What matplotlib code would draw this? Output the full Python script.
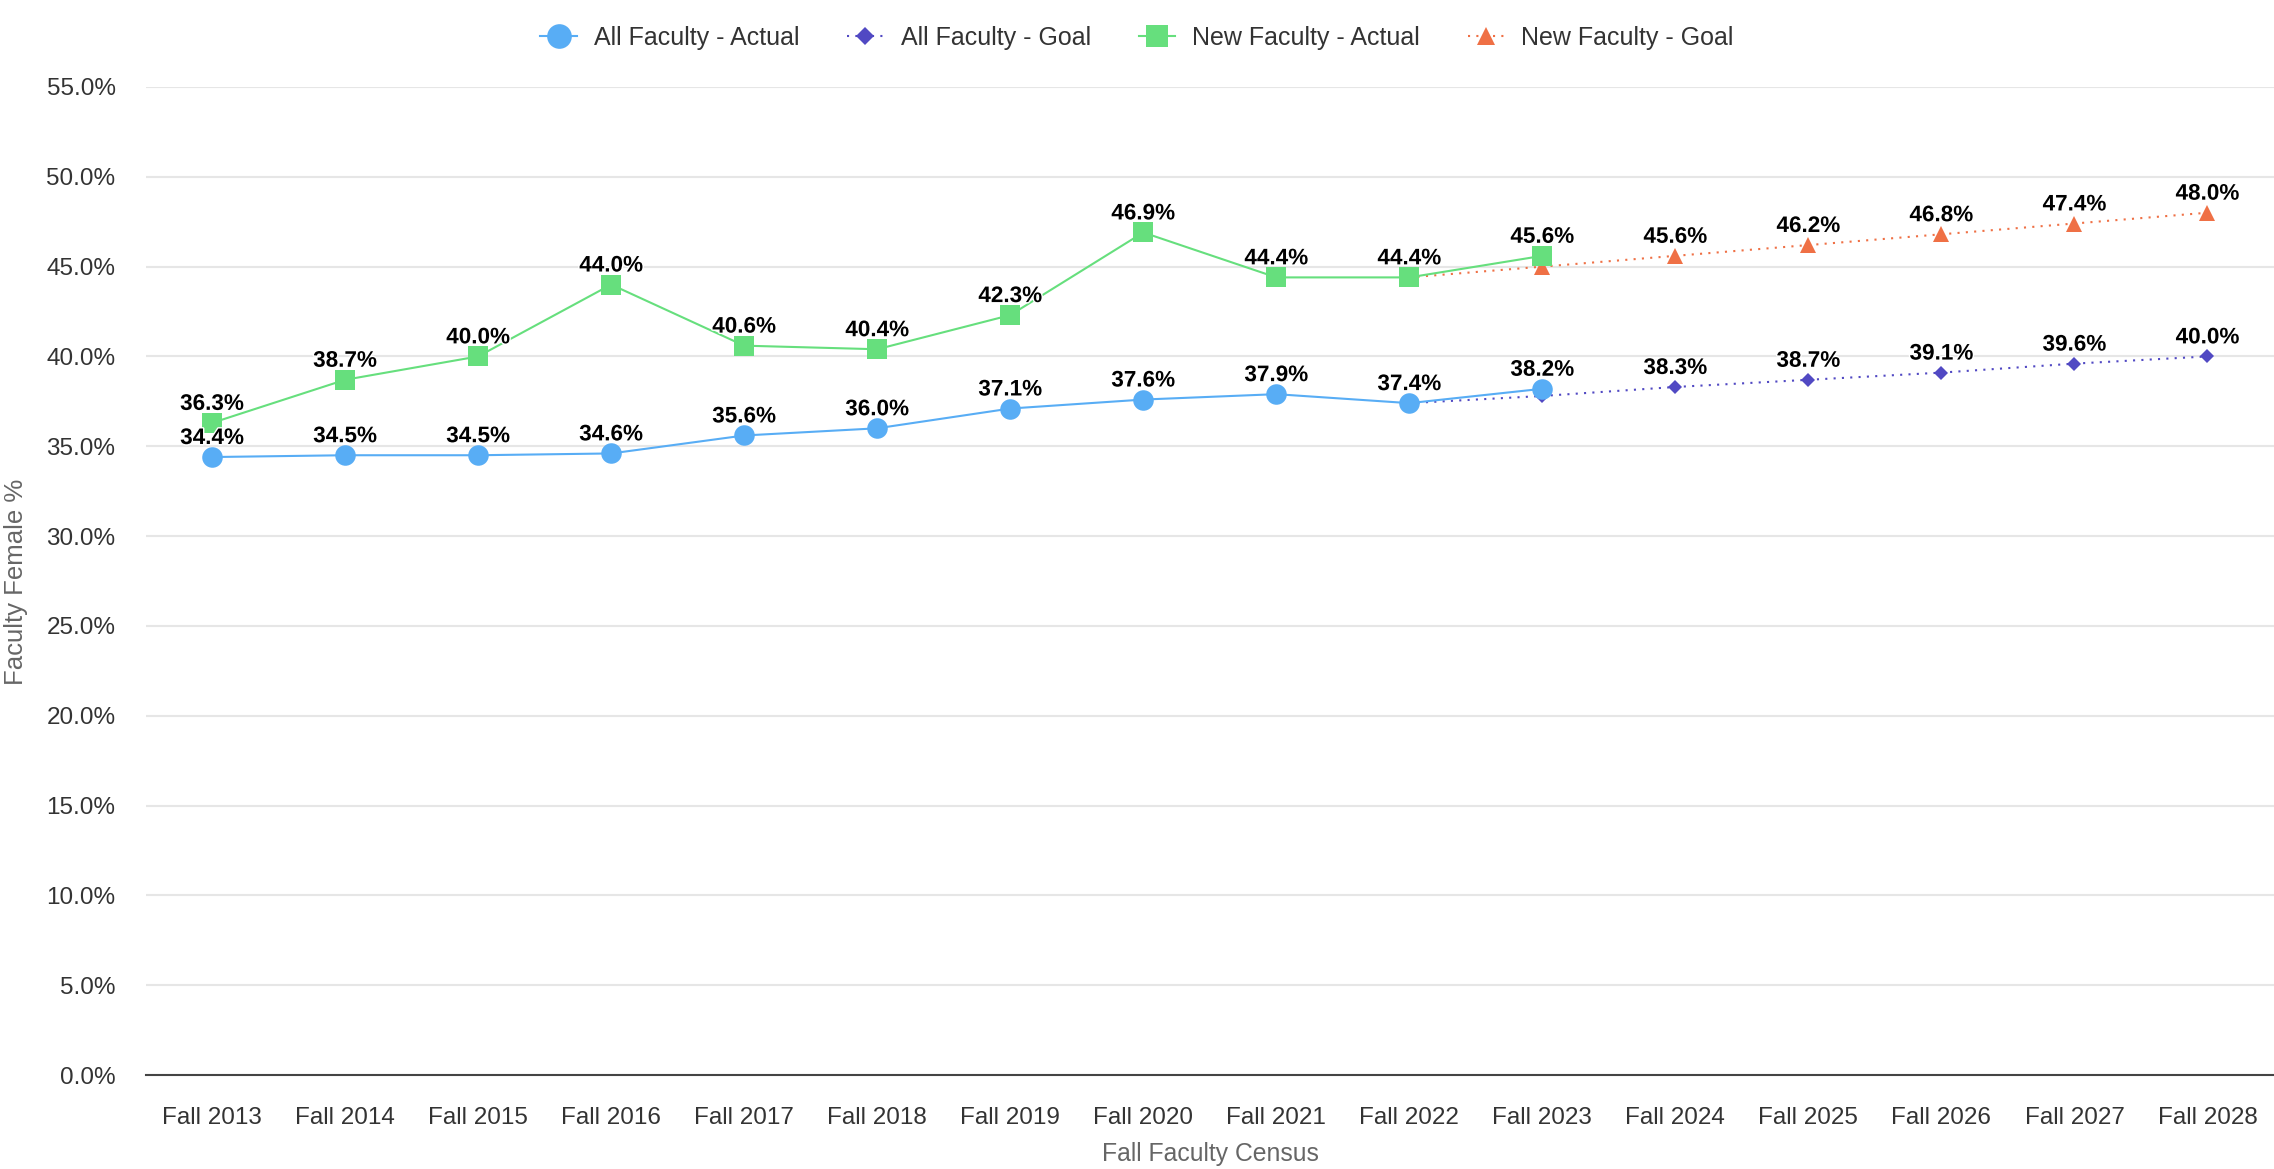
#!/usr/bin/env python3
"""
Faculty Female % by Fall Faculty Census, actuals vs. goals.

Line chart with four series: All Faculty (actual / goal) and
New Faculty (actual / goal), goals projected out to Fall 2028.
"""

import matplotlib.pyplot as plt
import matplotlib.patheffects as pe
from matplotlib.ticker import FuncFormatter

# Categories
years = ['Fall 2013', 'Fall 2014', 'Fall 2015', 'Fall 2016', 'Fall 2017',
         'Fall 2018', 'Fall 2019', 'Fall 2020', 'Fall 2021', 'Fall 2022',
         'Fall 2023', 'Fall 2024', 'Fall 2025', 'Fall 2026', 'Fall 2027',
         'Fall 2028']

# Actuals (Fall 2013 - Fall 2023)
actual_years = years[:11]
all_actual = [34.4, 34.5, 34.5, 34.6, 35.6, 36.0, 37.1, 37.6, 37.9, 37.4, 38.2]
new_actual = [36.3, 38.7, 40.0, 44.0, 40.6, 40.4, 42.3, 46.9, 44.4, 44.4, 45.6]

# Goals (start from the Fall 2022 actual, run to Fall 2028)
goal_years = years[9:]
all_goal = [37.4, 37.8, 38.3, 38.7, 39.1, 39.6, 40.0]
new_goal = [44.4, 45.0, 45.6, 46.2, 46.8, 47.4, 48.0]
# goal labels hidden where they collide with the actual labels
goal_label_from = 'Fall 2024'

# Colors
BLUE = '#58adf5'
PURPLE = '#5149c3'
GREEN = '#66df7d'
ORANGE = '#ef7045'


def add_labels(ax, xs, ys):
    for x, y in zip(xs, ys):
        ax.annotate(f'{y:.1f}%', (x, y), xytext=(0, 9.4),
                    textcoords='offset points', ha='center', va='baseline',
                    fontsize=16.2, fontweight='bold', color='black', zorder=10,
                    path_effects=[pe.withStroke(linewidth=2, foreground='white')])


def main():
    plt.rcParams['font.family'] = ['Liberation Sans', 'DejaVu Sans']

    fig = plt.figure(figsize=(22.74, 11.69), dpi=100)
    ax = fig.add_axes([0.064, 0.0804, 0.936, 0.8452])

    idx = {y: i for i, y in enumerate(years)}
    xa = [idx[y] for y in actual_years]
    xg = [idx[y] for y in goal_years]

    # Goal lines (below actuals)
    h_all_goal, = ax.plot(xg, all_goal, color=PURPLE, lw=1.5,
                          linestyle=(0, (1, 3)), marker='D', ms=7.5,
                          mew=0, label='All Faculty - Goal', zorder=3)
    h_new_goal, = ax.plot(xg, new_goal, color=ORANGE, lw=1.5,
                          linestyle=(0, (1, 3)), marker='^', ms=11,
                          mew=0, label='New Faculty - Goal', zorder=3)

    # Actual lines
    h_all, = ax.plot(xa, all_actual, color=BLUE, lw=1.5, marker='o', ms=14.8,
                     mew=0, label='All Faculty - Actual', zorder=5)
    h_new, = ax.plot(xa, new_actual, color=GREEN, lw=1.5, marker='s', ms=13.8,
                     mew=0, label='New Faculty - Actual', zorder=5)

    # Data labels
    add_labels(ax, xa, all_actual)
    add_labels(ax, xa, new_actual)
    start = goal_years.index(goal_label_from)
    add_labels(ax, xg[start:], all_goal[start:])
    add_labels(ax, xg[start:], new_goal[start:])

    # Axes
    ax.set_xlim(-0.5, len(years) - 0.5)
    ax.set_ylim(0, 55)
    ax.set_yticks(range(0, 56, 5))
    ax.yaxis.set_major_formatter(FuncFormatter(lambda v, _: f'{v:.1f}%'))
    ax.set_xticks(range(len(years)))
    ax.set_xticklabels(years)
    ax.tick_params(axis='y', length=0, pad=21.6, labelsize=17.5, labelcolor='#333333')
    ax.tick_params(axis='x', length=0, pad=23, labelsize=17.5, labelcolor='#333333')

    ax.grid(axis='y', color='#e6e6e6', lw=1.5)
    ax.set_axisbelow(True)
    for side in ['top', 'right', 'left']:
        ax.spines[side].set_visible(False)
    ax.spines['bottom'].set_color('#444444')
    ax.spines['bottom'].set_linewidth(1.5)
    ax.spines['bottom'].set_zorder(2)

    # Axis titles
    fig.text(16 / 2274, 1 - 582 / 1169, 'Faculty Female %', rotation=90,
             ha='center', va='center', fontsize=18.5, color='#666666')
    fig.text(1210 / 2274, 1 - 1161 / 1169, 'Fall Faculty Census',
             ha='center', va='baseline', fontsize=17.8, color='#666666')

    # Legend
    fig.legend(handles=[h_all, h_all_goal, h_new, h_new_goal],
               loc='center', bbox_to_anchor=(0.5, 1 - 38 / 1169), ncol=4,
               frameon=False, fontsize=18, labelcolor='#333333',
               markerscale=1.2, handlelength=1.45, handletextpad=0.7,
               columnspacing=1.9)

    fig.savefig('out.png', dpi=100, facecolor='white')
    plt.close(fig)


if __name__ == '__main__':
    main()
